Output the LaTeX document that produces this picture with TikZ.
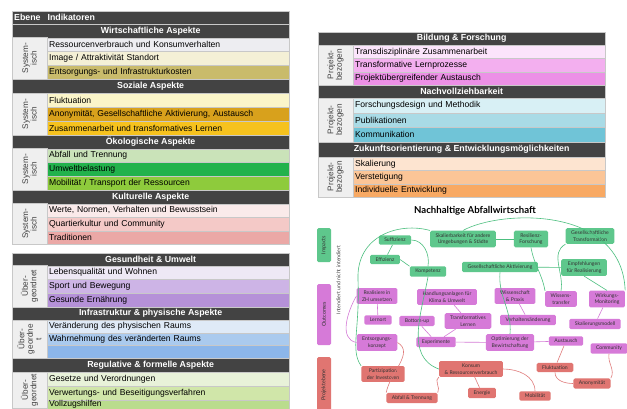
\documentclass[tikz,border=0pt]{standalone}
\usepackage{fontspec}
\setmainfont{Liberation Sans}
\newfontfamily\netfont{Lato}
\usepackage{xcolor}
\usepackage{tikz}

\definecolor{hdrgray}{HTML}{434343}
\definecolor{ebgray}{HTML}{EFEFEF}
\definecolor{rowline}{HTML}{C8C8C8}
% Wirtschaft
\definecolor{wiA}{HTML}{EDEDF1}
\definecolor{wiB}{HTML}{F4F0D6}
\definecolor{wiC}{HTML}{C9BB6B}
% Soziales
\definecolor{soA}{HTML}{FBF5C9}
\definecolor{soB}{HTML}{D8A11C}
\definecolor{soC}{HTML}{F6C21E}
% Oekologie
\definecolor{oeA}{HTML}{CAE3B9}
\definecolor{oeB}{HTML}{22B24C}
\definecolor{oeC}{HTML}{8ECB3C}
% Kultur
\definecolor{kuA}{HTML}{FAEAEA}
\definecolor{kuB}{HTML}{F4C9C7}
\definecolor{kuC}{HTML}{EBA8A6}
% Gesundheit
\definecolor{geA}{HTML}{EEE8F5}
\definecolor{geB}{HTML}{CDB4E6}
\definecolor{geC}{HTML}{B591D8}
% Infrastruktur
\definecolor{inA}{HTML}{DFEAF7}
\definecolor{inB}{HTML}{AACAEE}
\definecolor{inC}{HTML}{8CB6EA}
% Regulativ
\definecolor{reA}{HTML}{E8F2D9}
\definecolor{reB}{HTML}{D0E6A9}
\definecolor{reC}{HTML}{BADC8D}
% Bildung
\definecolor{biA}{HTML}{FBE4FB}
\definecolor{biB}{HTML}{F3AFEF}
\definecolor{biC}{HTML}{EC90E6}
% Nachvollziehbarkeit
\definecolor{naA}{HTML}{D8F0F5}
\definecolor{naB}{HTML}{A9DBE6}
\definecolor{naC}{HTML}{70C4D7}
% Zukunft
\definecolor{zuA}{HTML}{FDE4D0}
\definecolor{zuB}{HTML}{FBC597}
\definecolor{zuC}{HTML}{F8A963}
% Netzwerk
\definecolor{impgreen}{HTML}{5EC78C}
\definecolor{outmag}{HTML}{D67AD8}
\definecolor{projred}{HTML}{E07571}
\definecolor{gline}{HTML}{4CBF7F}
\definecolor{mline}{HTML}{D57BD7}
\definecolor{rline}{HTML}{E07C7C}

\begin{document}
\begin{tikzpicture}[x=1pt, y=-1pt,
      hdr/.style = {fill=hdrgray, text=white, draw=rowline, line width=0.3pt,
                    font=\fontsize{8.8}{10}\selectfont\bfseries, inner sep=0pt, anchor=north west},
      lhdr/.style = {hdr, minimum width=277pt},
      rhdr/.style = {hdr, minimum width=287pt},
      cell/.style = {anchor=north west, inner xsep=2pt, inner ysep=0pt, align=left,
                     draw=rowline, line width=0.3pt, font=\fontsize{8.6}{10}\selectfont},
      lcell/.style = {cell, text width=238pt},
      rcell/.style = {cell, text width=248pt},
      ebene/.style = {fill=ebgray, draw=rowline, line width=0.3pt, rotate=90, inner sep=0pt,
                      minimum height=35pt, align=center, text=black!75,
                      font=\fontsize{8.2}{8.6}\selectfont},
      net/.style = {rounded corners=1.5pt, align=center, inner xsep=5.5pt, inner ysep=2.8pt,
                    text=black!80, font=\netfont\fontsize{5.1}{6.4}\selectfont},
      imp/.style = {net, fill=impgreen},
      outc/.style = {net, fill=outmag},
      proj/.style = {net, fill=projred},
      cat/.style = {rounded corners=1.5pt, rotate=90, minimum height=14pt, inner sep=0pt,
                    text=black!80, font=\netfont\fontsize{5.4}{6}\selectfont},
      glink/.style = {draw=gline, line width=0.6pt},
      mlink/.style = {draw=mline, line width=0.6pt},
      rlink/.style = {draw=rline, line width=0.6pt}]

  \useasboundingbox[fill=white] (0,0) rectangle (627,408);

  % Linke Tabelle
  \node[lhdr, minimum height=13pt, text width=273pt, align=left, inner xsep=2pt] (h0) at (12,11)
       {Ebene\hspace{7pt}Indikatoren};

  % Wirtschaftliche Aspekte
  \node[lhdr, minimum height=13.5pt] (hWi) at (12,24) {Wirtschaftliche Aspekte};
  \node[lcell, fill=wiA, minimum height=13.8pt] (wi1) at (47,37.5) {Ressourcenverbrauch und Konsumverhalten};
  \node[lcell, fill=wiB, minimum height=13.8pt] (wi2) at (47,51.3) {Image / Attraktivität Standort};
  \node[lcell, fill=wiC, minimum height=13.9pt] (wi3) at (47,65.1) {Entsorgungs- und Infrastrukturkosten};
  \node[ebene, minimum width=41.5pt] (eWi) at (29.5,58.25) {System-\\isch};

  % Soziale Aspekte
  \node[lhdr, minimum height=14pt] (hSo) at (12,79) {Soziale Aspekte};
  \node[lcell, fill=soA, minimum height=14pt] (so1) at (47,93) {Fluktuation};
  \node[lcell, fill=soB, minimum height=14pt] (so2) at (47,107) {Anonymität, Gesellschaftliche Aktivierung, Austausch};
  \node[lcell, fill=soC, minimum height=14pt] (so3) at (47,121) {Zusammenarbeit und transformatives Lernen};
  \node[ebene, minimum width=42pt] (eSo) at (29.5,114) {System-\\isch};

  % Oekologische Aspekte
  \node[lhdr, minimum height=13.5pt] (hOe) at (12,135) {Ökologische Aspekte};
  \node[lcell, fill=oeA, minimum height=13.8pt] (oe1) at (47,148.5) {Abfall und Trennung};
  \node[lcell, fill=oeB, minimum height=13.8pt] (oe2) at (47,162.3) {Umweltbelastung};
  \node[lcell, fill=oeC, minimum height=13.9pt] (oe3) at (47,176.1) {Mobilität / Transport der Ressourcen};
  \node[ebene, minimum width=41.5pt] (eOe) at (29.5,169.25) {System-\\isch};

  % Kulturelle Aspekte
  \node[lhdr, minimum height=13.5pt] (hKu) at (12,190) {Kulturelle Aspekte};
  \node[lcell, fill=kuA, minimum height=13.5pt] (ku1) at (47,203.5) {Werte, Normen, Verhalten und Bewusstsein};
  \node[lcell, fill=kuB, minimum height=13.5pt] (ku2) at (47,217) {Quartierkultur und Community};
  \node[lcell, fill=kuC, minimum height=13.5pt] (ku3) at (47,230.5) {Traditionen};
  \node[ebene, minimum width=40.5pt] (eKu) at (29.5,223.75) {System-\\isch};

  % Gesundheit & Umwelt
  \node[lhdr, minimum height=12.5pt] (hGe) at (12,253) {Gesundheit \& Umwelt};
  \node[lcell, fill=geA, minimum height=13.8pt] (ge1) at (47,265.5) {Lebensqualität und Wohnen};
  \node[lcell, fill=geB, minimum height=13.8pt] (ge2) at (47,279.3) {Sport und Bewegung};
  \node[lcell, fill=geC, minimum height=13.9pt] (ge3) at (47,293.1) {Gesunde Ernährung};
  \node[ebene, minimum width=41.5pt] (eGe) at (29.5,286.25) {Über-\\geordnet};

  % Infrastruktur & physische Aspekte
  \node[lhdr, minimum height=13pt] (hIn) at (12,307) {Infrastruktur \& physische Aspekte};
  \node[lcell, fill=inA, minimum height=12.7pt] (in1) at (47,320) {Veränderung des physischen Raums};
  \node[lcell, fill=inB, minimum height=12.7pt] (in2) at (47,332.7) {Wahrnehmung des veränderten Raums};
  \node[lcell, fill=inC, minimum height=12.6pt] (in3) at (47,345.4) {};
  \node[ebene, minimum width=38pt] (eIn) at (29.5,339) {Über-\\geordne\\t};

  % Regulative & formelle Aspekte
  \node[lhdr, minimum height=14pt] (hRe) at (12,358) {Regulative \& formelle Aspekte};
  \node[lcell, fill=reA, minimum height=14pt] (re1) at (47,372) {Gesetze und Verordnungen};
  \node[lcell, fill=reB, minimum height=14pt] (re2) at (47,386) {Verwertungs- und Beseitigungsverfahren};
  \node[lcell, fill=reC, minimum height=8.6pt, text height=6.2pt, text depth=1.6pt] (re3) at (47,400) {Vollzugshilfen};
  \node[ebene, minimum width=36pt] (eRe) at (29.5,390) {Über-\\geordnet};

  % Rechte Tabelle
  \node[rhdr, minimum height=13pt] (hBi) at (318,32) {Bildung \& Forschung};
  \node[rcell, fill=biA, minimum height=13.4pt] (bi1) at (353,45) {Transdisziplinäre Zusammenarbeit};
  \node[rcell, fill=biB, minimum height=13.3pt] (bi2) at (353,58.4) {Transformative Lernprozesse};
  \node[rcell, fill=biC, minimum height=13.3pt] (bi3) at (353,71.7) {Projektübergreifender Austausch};
  \node[ebene, minimum width=40pt] (eBi) at (335.5,65) {Projekt-\\bezogen};

  \node[rhdr, minimum height=13pt] (hNa) at (318,85) {Nachvollziehbarkeit};
  \node[rcell, fill=naA, minimum height=14.7pt] (na1) at (353,98) {Forschungsdesign und Methodik};
  \node[rcell, fill=naB, minimum height=14.6pt] (na2) at (353,112.7) {Publikationen};
  \node[rcell, fill=naC, minimum height=14.7pt] (na3) at (353,127.3) {Kommunikation};
  \node[ebene, minimum width=44pt] (eNa) at (335.5,120) {Projekt-\\bezogen};

  \node[rhdr, minimum height=15pt] (hZu) at (318,142) {Zukunftsorientierung \& Entwicklungsmöglichkeiten};
  \node[rcell, fill=zuA, minimum height=13.3pt] (zu1) at (353,157) {Skalierung};
  \node[rcell, fill=zuB, minimum height=13.3pt] (zu2) at (353,170.3) {Verstetigung};
  \node[rcell, fill=zuC, minimum height=13.4pt] (zu3) at (353,183.6) {Individuelle Entwicklung};
  \node[ebene, minimum width=40pt] (eZu) at (335.5,177) {Projekt-\\bezogen};

  % Netzwerk
  \node[font=\netfont\fontsize{9.6}{11}\selectfont\bfseries] (title) at (475,210.5) {Nachhaltige Abfallwirtschaft};

  \node[cat, fill=impgreen, minimum width=34pt] (impacts) at (324,245) {Impacts};
  \node[cat, fill=outmag, minimum width=61pt] (outcomes) at (324,314.5) {Outcomes};
  \node[cat, fill=projred, minimum width=56pt] (projekt) at (324,385) {Projektebene};
  \node[rotate=90, inner sep=0pt, text=black!75, font=\netfont\fontsize{5.2}{6}\selectfont] (intend) at (338.5,280)
       {Intendiert und nicht intendiert};

  % Impacts
  \node[imp] (suff) at (395,240) {Suffizienz};
  \node[imp] (eff) at (385,259.5) {Effizienz};
  \node[imp] (komp) at (428,271.5) {Kompetenz};
  \node[imp] (skal) at (463,239) {Skalierbarkeit für andere\\Umgebungen \& Städte};
  \node[imp] (resil) at (531,239) {Resilienz-\\Forschung};
  \node[imp] (gtrans) at (590,236) {Gesellschaftliche\\Transformation};
  \node[imp] (gakt) at (500,267) {Gesellschaftliche Aktivierung};
  \node[imp] (empf) at (584,267.5) {Empfehlungen\\für Realisierung};

  % Outcomes
  \node[outc] (real) at (377,296) {Realisiere in\\ZH umsetzen};
  \node[outc] (handl) at (447,297) {Handlungsanlagen für\\Klima \& Umwelt};
  \node[outc] (wiss) at (515,296) {Wissenschaft\\\& Praxis};
  \node[outc] (wtrans) at (561,299) {Wissens-\\transfer};
  \node[outc] (wmon) at (607,299) {Wirkungs-\\Monitoring};
  \node[outc] (lern) at (378,320) {Lernort};
  \node[outc] (botup) at (417,321) {Bottom-up};
  \node[outc] (tlern) at (468,321) {Transformatives\\Lernen};
  \node[outc] (verh) at (528,320) {Verhaltensänderung};
  \node[outc] (skmod) at (595,324) {Skalierungsmodell};
  \node[outc] (entk) at (377,342.5) {Entsorgungs-\\konzept};
  \node[outc] (expe) at (436,342) {Experimente};
  \node[outc] (opti) at (510,342.5) {Optimierung der\\Bewirtschaftung};
  \node[outc] (aust) at (566,341) {Austausch};
  \node[outc] (comm) at (609,348.5) {Community};

  % Projektebene
  \node[proj] (part) at (383,374) {Partizipation\\der Investoren};
  \node[proj] (kons) at (471,369) {Konsum\\\& Ressourcenverbrauch};
  \node[proj] (fluk) at (555,367.5) {Fluktuation};
  \node[proj] (anon) at (592,383.5) {Anonymität};
  \node[proj] (abft) at (412,398) {Abfall \& Trennung};
  \node[proj] (ener) at (482,393) {Energie};
  \node[proj] (mobi) at (535,396) {Mobilität};

  % gruene Verbindungen
  \draw[glink] (suff) -- (eff);
  \draw[glink] (suff.east) to[out=0, in=80] (komp.north);
  \draw[glink] (eff.east) -- (komp.north west);
  \draw[glink] (skal) -- (resil);
  \draw[glink] (gakt) -- (empf);
  \draw[glink] (empf.south) -- (wmon.north);
  \draw[glink] (gtrans.south west) to[out=-150, in=80] (wtrans.north);
  \draw[glink] (resil.south) to[out=-80, in=100] (wtrans.north west);
  \draw[glink] (gakt.south) to[out=-95, in=85] (opti.north);
  \draw[glink] (komp.south) to[out=-100, in=160] (kons.west);
  \draw[glink] (skal.north west) .. controls (400,222) and (356,235) .. (358,280)
                 .. controls (360,330) and (350,350) .. (part.north west);
  \draw[glink] (skal.north) .. controls (500,210) and (622,205) .. (wmon.north east);

  % magenta Verbindungen
  \draw[mlink] (real) -- (lern);
  \draw[mlink] (real.west) to[out=-120, in=170] (entk.west);
  \draw[mlink] (handl) -- (tlern);
  \draw[mlink] (botup) -- (expe);
  \draw[mlink] (tlern) -- (expe);
  \draw[mlink] (expe) -- (opti);
  \draw[mlink] (opti) -- (aust);
  \draw[mlink] (wiss) -- (verh);
  \draw[mlink] (wmon) -- (skmod);

  % rote Verbindungen
  \draw[rlink] (kons) -- (ener);
  \draw[rlink] (kons.east) to[out=0, in=90] (mobi.north);
  \draw[rlink] (kons.south west) to[out=-150, in=60] (abft.north east);
  \draw[rlink] (entk.east) to[out=-30, in=80] (abft.north west);
  \draw[rlink] (aust) -- (fluk);
  \draw[rlink] (fluk.south) to[out=-90, in=180] (anon.west);
  \draw[rlink] (comm.south) to[out=-100, in=60] (anon.north east);

\end{tikzpicture}
\end{document}
